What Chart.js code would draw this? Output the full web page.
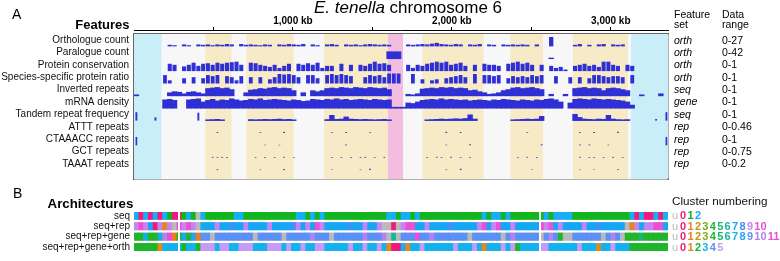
<!DOCTYPE html>
<html>
<head>
<meta charset="utf-8">
<script src="https://cdn.jsdelivr.net/npm/chart.js@4.4.0/dist/chart.umd.min.js"></script>
<style>
  body { margin: 0; background: #fff; }
  #wrap { position: relative; width: 780px; height: 261px; overflow: hidden; }
  canvas { position: absolute; left: 0; }
  #features-chart { top: 0; }
  #architecture-chart { top: 184px; }
</style>
</head>
<body>
<div id="wrap">
  <canvas id="features-chart" width="780" height="190"></canvas>
  <canvas id="architecture-chart" width="780" height="77"></canvas>
</div>
<script>
const FONT = "'Liberation Sans', Arial, Helvetica, sans-serif";
Chart.defaults.font.family = FONT;
Chart.defaults.color = '#111';

// chromosome length and window size (kb)
const CHROM_KB = 3360;
const BIN_KB = 30;
const kbTicks = [500, 1000, 1500, 2000, 2500, 3000];

// ---- PANEL A: feature tracks ----
const trackNames = ['Orthologue count', 'Paralogue count', 'Protein conservation', 'Species-specific protein ratio',
  'Inverted repeats', 'mRNA density', 'Tandem repeat frequency', 'ATTT repeats', 'CTAAACC repeats', 'GCT repeats', 'TAAAT repeats'];
const featureSets = ['orth', 'orth', 'orth', 'orth', 'seq', 'gene', 'seq', 'rep', 'rep', 'rep', 'rep'];
const dataRanges = ['0-27', '0-42', '0-1', '0-1', '0-1', '0-1', '0-1', '0-0.46', '0-1', '0-0.75', '0-0.2'];
const trackMax = [27, 42, 1, 1, 1, 1, 1, 0.46, 1, 0.75, 0.2];

// one value per 30 kb window
const orthologueCount = [
  0,0,0,0,0,0,0,4,3,0,5,3,0,5,4,5,
  3,5,4,6,5,0,6,4,5,4,3,5,4,0,5,4,
  6,5,4,6,0,5,3,0,5,6,4,0,5,4,5,3,
  5,6,5,4,5,4,0,0,0,5,4,5,6,5,7,9,
  6,5,4,6,5,0,5,4,6,0,5,4,0,5,4,5,
  4,5,4,0,5,0,0,24,0,0,0,0,4,6,0,4,
  0,5,6,0,5,4,5,0,0,0,0,0,0,0,0,0];

const proteinConservation = [
  0,0,0,0,0,0,0,0.7,0.6,0,0.45,0.6,0.8,0.5,0.7,0.75,
  0.6,0.8,0.7,0.8,0.85,0.9,0.6,0,0.8,0.75,0.6,0.5,0.4,0.6,0.3,0.5,
  0.7,0,0.7,0.6,0.75,0.6,0.8,0.3,0.5,0.5,0,0.7,0,0.6,0,0.6,
  0.5,0.7,0.9,0.7,0.75,0.6,0,0,0,0.6,0.3,0.6,0.5,0.7,0.8,0.9,
  0.8,0.9,0.6,0.7,0.8,0.5,0,0.6,0,0.7,0.6,0.6,0.5,0,0.7,0.8,
  0.9,0.7,0.8,0.6,0,0.6,0,0.5,0.3,0.4,0.15,0,0.5,0.6,0.7,0.5,
  0.6,0.4,0.9,0.9,0.6,0.5,0,0.6,0.5,0,0,0,0,0,0,0];

const speciesSpecific = [
  0,0,0,0,0,0,0.8,0.3,0,0,0.5,0,0.6,0,0.5,0.8,
  0.7,0.8,0,0.7,0.6,0.3,0.7,0,0.6,0,0.6,0,0.4,0.6,0.9,0.85,
  0.9,0.8,0.6,0,0.8,0.8,0.5,0,0.8,0.9,0.8,0.9,0.8,0.7,0,0,
  0.6,0.8,0.7,0.8,0.6,0.95,0.95,0.95,0,0,0.9,0,0.4,0,0.3,0.4,
  0,0.5,0.6,0.7,0.8,0.6,0,0.9,0,0.8,0.8,0.7,0.8,0,0.5,0.7,
  0.6,0.7,0.6,0.8,0.7,0.8,0,0,0.7,0,0,0.6,0,0.6,0,0.5,
  0.8,0.8,0.7,0.6,0.7,0.7,0.6,0,0.8,0,0,0,0,0,0,0];

const invertedRepeats = [
  0.1,0,0,0,0,0,0,0.3,0.4,0.35,0.2,0.35,0.4,0.3,0.2,0.7,
  0.75,0.8,0.7,0.75,0.6,0,0,0.3,0.55,0.6,0.7,0.65,0.75,0.8,0.7,0.75,
  0.7,0.5,0,0.3,0,0.5,0.4,0.5,0.7,0.75,0.7,0.8,0.75,0.7,0.8,0.75,
  0.7,0.8,0.75,0.7,0.75,0.6,0,0,0,0.15,0.1,0.2,0.65,0.7,0.75,0.7,
  0.8,0.75,0.8,0.7,0.75,0.7,0.5,0.55,0.4,0.3,0.15,0.2,0.3,0.5,0.6,0.75,
  0.8,0.7,0.75,0.8,0.7,0.6,0,0.15,0,0,0.15,0,0.7,0.75,0.8,0.7,
  0.75,0.7,0.5,0.7,0.75,0.7,0.6,0.5,0,0,0.1,0,0,0,0.2,0];

const mrnaDensity = [
  0,0,0,0,0,0,0.8,0.85,0.75,0,0,0.8,0.85,0.9,0.6,0.75,
  0.85,0.7,0.8,0.75,0.9,0.8,0.7,0.75,0.85,0.8,0.9,0.75,0.8,0.85,0.8,0.75,
  0.7,0.8,0.75,0.65,0.7,0.85,0.8,0.75,0.85,0.8,0.9,0.8,0.85,0.75,0.8,0.85,
  0.8,0.75,0.85,0.8,0.75,0.8,0.1,0.1,0.1,0.5,0.45,0.6,0.75,0.8,0.85,0.8,
  0.9,0.8,0.85,0.8,0.75,0.8,0.7,0.75,0.8,0.75,0.7,0.8,0.75,0.85,0.8,0.75,
  0.7,0.8,0.75,0.7,0.8,0.75,0.85,0.9,0.8,0.6,0,0.5,0.85,0.9,0.85,0.8,
  0.9,0.85,0.8,0.85,0.8,0.75,0.7,0.6,0.3,0,0,0,0,0,0,0];

const tandemRepeats = [
  0,0,0,0,0,0,0,0,0,0,0,0,0,0,0,0.08,
  0.1,0.12,0.08,0,0,0,0,0,0.1,0.08,0.1,0.12,0.1,0.12,0.15,0.1,
  0.12,0.08,0,0,0,0,0,0,0.1,0.5,0.12,0.15,0.35,0.15,0.12,0.1,
  0.12,0.1,0.08,0.1,0.12,0.08,0,0,0,0,0,0,0,0.08,0.1,0.12,
  0.15,0.12,0.15,0.18,0.15,0.2,0.55,0.15,0,0,0,0,0,0,0,0.08,
  0.1,0.12,0.15,0.12,0.15,0.4,0,0,0,0,0,0,0.6,0.3,0.15,0.12,
  0.1,0.15,0.12,0.5,0.15,0.1,0.08,0.1,0,0,0,0,0,0,0,0];
// isolated tandem peaks: [kb, value]
const tandemPeaks = [[15, 0.8], [135, 0.3], [405, 0.75], [3285, 0.15], [3350, 0.8]];

// sparse tracks: [kb, value]
const paralogueCount = [[1605, 28], [1635, 28], [1665, 28], [2625, 3]];
const atttRepeats = [[525, 0.04], [795, 0.03], [945, 0.05], [1245, 0.03], [1335, 0.04], [1485, 0.03],
  [1965, 0.05], [2055, 0.04], [2475, 0.03], [2805, 0.04], [2895, 0.04], [3045, 0.05]];
const ctaaaccRepeats = [[15, 0.8], [825, 0.05], [915, 0.05], [1335, 0.08], [1965, 0.06], [2115, 0.1],
  [2565, 0.1], [2805, 0.08], [2865, 0.08], [2985, 0.06], [3350, 0.8]];
const gctRepeats = [[495, 0.06], [525, 0.05], [555, 0.06], [585, 0.05], [765, 0.05], [825, 0.06], [885, 0.05],
  [945, 0.06], [1005, 0.05], [1245, 0.06], [1305, 0.05], [1365, 0.06], [1425, 0.05], [1455, 0.06], [1515, 0.05],
  [1575, 0.06], [1845, 0.05], [1905, 0.06], [1935, 0.05], [1995, 0.07], [2055, 0.05], [2115, 0.06], [2415, 0.05],
  [2475, 0.06], [2535, 0.05], [2805, 0.06], [2865, 0.05], [2895, 0.06], [2955, 0.05], [3015, 0.06], [3075, 0.05]];
const taaatRepeats = [[525, 0.015], [795, 0.01], [945, 0.02], [1245, 0.01], [1425, 0.01], [1485, 0.025],
  [1965, 0.012], [2055, 0.025], [2505, 0.012], [2805, 0.01], [2895, 0.012], [3045, 0.015]];

// background regions (kb edges) and their kind
const bandEdges = [0, 175, 451, 615, 709, 1007, 1197, 1600, 1695, 1817, 2202, 2370, 2575, 2764, 3110, 3130, 3360];
const bandKinds = ['end', 'gap', 'core', 'gap', 'core', 'gap', 'core', 'centre', 'gap', 'core', 'gap', 'core', 'gap', 'core', 'gap', 'end'];

// ---- PANEL B: cluster architectures ----
const rowNames = ['seq', 'seq+rep', 'seq+rep+gene', 'seq+rep+gene+orth'];
const clustersSeq = [
  2,0,2,0,2,0,2,1,0,0,1,2,1,'u',2,1,
  1,1,1,1,1,2,2,1,1,1,1,1,1,1,1,1,
  1,1,2,2,1,2,1,2,1,1,1,1,1,1,1,1,
  1,1,1,1,1,2,2,1,2,2,1,2,1,1,1,1,
  1,1,1,1,1,1,1,1,1,2,1,2,2,1,2,1,
  1,1,1,1,1,1,2,1,2,2,2,2,1,1,1,1,
  1,1,1,1,1,1,1,1,2,0,2,0,0,2,0,2];
const clustersSeqRep = [
  9,10,9,7,0,9,1,9,'u',10,9,10,9,'u',7,7,
  7,9,7,7,8,7,7,9,7,7,7,7,9,7,7,7,
  7,8,9,7,9,7,10,9,7,7,7,7,7,8,7,7,
  9,7,7,9,'u','u',0,'u',9,10,10,7,7,9,7,7,
  7,7,8,7,7,7,7,7,9,10,7,9,10,7,7,9,
  7,7,7,7,7,10,9,10,7,9,7,7,7,7,9,7,
  7,8,7,7,7,7,7,'u',1,9,7,9,9,10,10,7];
const clustersSeqRepGene = [
  4,4,7,4,4,7,10,11,1,4,8,4,8,1,9,9,
  'u',9,9,9,9,9,9,9,9,'u',9,9,9,9,9,'u',
  9,9,9,9,9,10,9,9,9,'u',9,9,9,9,9,9,
  10,9,9,9,10,'u',6,'u',9,9,9,11,9,9,10,9,
  9,9,9,9,9,9,'u',9,9,9,9,9,9,'u',9,10,
  9,9,9,9,9,'u',9,10,9,4,'u','u',9,9,9,9,
  9,9,'u',9,10,9,'u',4,4,4,5,4,4,4,4,4];
const clustersAll = [
  2,2,2,2,2,1,3,3,3,3,2,3,3,2,5,5,
  5,3,5,5,3,3,5,5,5,3,3,3,5,5,5,3,
  5,3,3,5,3,3,5,5,3,3,3,3,3,5,3,3,
  5,3,3,5,3,1,0,0,3,1,3,3,5,3,3,3,
  3,3,3,5,3,3,3,5,3,1,3,3,3,5,3,5,
  2,3,3,3,3,5,5,3,3,3,3,3,3,5,3,3,
  3,1,3,3,5,3,3,3,2,2,2,2,2,2,2,2];
const rowBreaksKb = [283, 2555];

// colours
const TRACK_BLUE = '#2f2fd6';
const FRAME = '#666';
const UNASSIGNED = '#b9b9b9';
const bandColors = { end: '#c9eef8', gap: '#f7f7f7', core: '#f7eac6', centre: '#f3bde0' };
const palSeq = ['#ef1a7e', '#12b51d', '#17aef4'];
const palSeqRep = ['#ef1a7e', '#e8841d', '#b99a10', '#76ab14', '#21b42a', '#17b872', '#13b6aa', '#16a7f3', '#4290f3', '#c783f2', '#ec4fd4'];
const palSeqRepGene = ['#ef1a7e', '#eb7d1f', '#c2950f', '#8aa812', '#22b42a', '#15b667', '#12b6a0', '#13b0d8', '#1fa4f2', '#5b90f5', '#b580f2', '#e64fd6'];
const palAll = ['#ef1a7e', '#df8a1b', '#1fb52a', '#12b1ef', '#5e8ef5', '#c79af5'];

const TRACK_SPAN = 11.72;  // y range of panel A (track units)
const BAR_FILL = 0.85;      // tallest bar as a share of a track
const ROW_H = 0.72;
const ROW_SPAN = 3.73;

function binCenter(i) {
  return i * BIN_KB + BIN_KB / 2;
}

// turns [kb, value] pairs into floating bars sitting on the track baseline
function trackBars(pairs, track) {
  const base = track + 1;
  return pairs
    .filter(p => p[1] > 0)
    .map(p => ({ x: p[0], y: [base, base - p[1] / trackMax[track] * BAR_FILL] }));
}

function denseTrack(values) {
  return values.map((v, i) => [binCenter(i), v]);
}

// [track index, pairs, share of the window the bar fills]
const trackSeries = [
  [0, denseTrack(orthologueCount), 0.9],
  [1, paralogueCount, 1],
  [2, denseTrack(proteinConservation), 0.85],
  [3, denseTrack(speciesSpecific), 0.8],
  [4, denseTrack(invertedRepeats), 1],
  [5, denseTrack(mrnaDensity), 1],
  [6, denseTrack(tandemRepeats), 1],
  [6, tandemPeaks, 0.4],
  [7, atttRepeats, 0.35],
  [8, ctaaaccRepeats, 0.35],
  [9, gctRepeats, 0.35],
  [10, taaatRepeats, 0.35]
];

const trackDatasets = trackSeries.map(([t, pairs, share]) => ({
  label: trackNames[t],
  data: trackBars(pairs, t),
  backgroundColor: TRACK_BLUE,
  barPercentage: share,
  categoryPercentage: 1,
  grouped: false,
  xAxisID: 'x',
  yAxisID: 'y'
}));

const bandDataset = {
  label: 'regions',
  indexAxis: 'y',
  xAxisID: 'xb',
  yAxisID: 'yb',
  data: bandKinds.map((k, i) => ({ x: [bandEdges[i], bandEdges[i + 1]], y: 'bg' })),
  backgroundColor: bandKinds.map(k => bandColors[k]),
  barPercentage: 1,
  categoryPercentage: 1,
  grouped: false,
  order: 10
};

const featureLabels = {
  id: 'featureLabels',
  afterDraw(chart) {
    const ctx = chart.ctx;
    const y = chart.scales.y;
    ctx.save();
    ctx.fillStyle = '#000';
    ctx.textBaseline = 'alphabetic';
    ctx.font = `14px ${FONT}`;
    ctx.fillText('A', 12, 18.5);

    // title: italic species name + plain text
    const part1 = 'E. tenella', part2 = ' chromosome 6';
    ctx.font = `italic 17px ${FONT}`;
    const w1 = ctx.measureText(part1).width;
    ctx.font = `17px ${FONT}`;
    const w2 = ctx.measureText(part2).width;
    const x0 = 408 - (w1 + w2) / 2;
    ctx.font = `italic 17px ${FONT}`;
    ctx.fillText(part1, x0, 12.5);
    ctx.font = `17px ${FONT}`;
    ctx.fillText(part2, x0 + w1, 12.5);

    ctx.font = `bold 13px ${FONT}`;
    ctx.textAlign = 'right';
    ctx.fillText('Features', 129.5, 29);

    ctx.textAlign = 'left';
    ctx.font = `10.5px ${FONT}`;
    ctx.fillText('Feature', 674, 18);
    ctx.fillText('set', 674, 27.5);
    ctx.fillText('Data', 722, 18);
    ctx.fillText('range', 722, 27.5);

    ctx.textBaseline = 'middle';
    featureSets.forEach((s, i) => {
      const yy = y.getPixelForValue(i + 0.5) + 0.5;
      ctx.font = `italic 10.5px ${FONT}`;
      ctx.fillText(s, 674, yy);
      ctx.font = `10.5px ${FONT}`;
      ctx.fillText(dataRanges[i], 722, yy);
    });
    ctx.restore();
  }
};

new Chart(document.getElementById('features-chart'), {
  type: 'bar',
  data: { datasets: [bandDataset, ...trackDatasets] },
  options: {
    responsive: false,
    animation: false,
    layout: { padding: 0 },
    plugins: { legend: { display: false }, tooltip: { enabled: false } },
    scales: {
      x: {
        type: 'linear', position: 'top', weight: 1, min: 0, max: CHROM_KB, offset: false,
        afterBuildTicks: s => { s.ticks = kbTicks.map(v => ({ value: v })); },
        afterFit: s => { s.height = 30; },
        ticks: {
          callback: v => (v % 1000 === 0 ? v.toLocaleString('en-US') + ' kb' : ''),
          font: { size: 10, weight: 'bold' }, color: '#000', maxRotation: 0, autoSkip: false, padding: 0
        },
        grid: { drawOnChartArea: false, drawTicks: true, tickLength: 3, color: '#000', offset: false },
        border: { display: true, color: '#000', width: 1 }
      },
      xf: {
        type: 'linear', axis: 'x', position: 'top', weight: 0, min: 0, max: CHROM_KB, offset: false,
        afterFit: s => { s.height = 4; },
        ticks: { display: false }, grid: { display: false, drawTicks: false },
        border: { display: true, color: FRAME, width: 1.5 }, z: 1
      },
      xb: {
        type: 'linear', axis: 'x', position: 'bottom', min: 0, max: CHROM_KB, offset: false,
        afterFit: s => { s.height = 2; },
        ticks: { display: false }, grid: { display: false, drawTicks: false },
        border: { display: true, color: FRAME, width: 1.5 }, z: 1
      },
      y: {
        type: 'linear', position: 'left', weight: 1, min: 0, max: TRACK_SPAN, reverse: true,
        afterBuildTicks: s => { s.ticks = trackNames.map((n, i) => ({ value: i + 0.5 })); },
        afterFit: s => { s.width = 134; },
        ticks: { callback: (v, i) => trackNames[i], font: { size: 10 }, color: '#111', padding: 5, autoSkip: false },
        grid: { display: false, drawTicks: false },
        border: { display: true, color: FRAME, width: 1.5 }, z: 1
      },
      yg: {
        type: 'linear', axis: 'y', position: 'left', weight: 0, min: 0, max: TRACK_SPAN, reverse: true,
        afterBuildTicks: s => { s.ticks = trackNames.map((n, i) => ({ value: i + 1 })); },
        afterFit: s => { s.width = 0; },
        ticks: { display: false },
        grid: { color: '#a8a8a8', lineWidth: 1.2, drawTicks: false },
        border: { display: false }, z: 1
      },
      yb: { type: 'category', axis: 'y', labels: ['bg'], display: false, offset: true },
      yr: {
        type: 'linear', axis: 'y', position: 'right', min: 0, max: 1,
        afterFit: s => { s.width = 112; },
        ticks: { display: false }, grid: { display: false, drawTicks: false },
        border: { display: true, color: FRAME, width: 1.5 }, z: 1
      }
    }
  },
  plugins: [featureLabels]
});

// ---- PANEL B chart ----
const rowClusters = [clustersSeq, clustersSeqRep, clustersSeqRepGene, clustersAll];
const rowPalettes = [palSeq, palSeqRep, palSeqRepGene, palAll];

const rowDatasets = rowClusters.map((clusters, r) => ({
  label: rowNames[r],
  data: clusters.map((c, i) => ({ x: binCenter(i), y: [r, r + ROW_H] })),
  backgroundColor: clusters.map(c => (c === 'u' ? UNASSIGNED : rowPalettes[r][c])),
  barPercentage: 1,
  categoryPercentage: 1,
  grouped: false,
  xAxisID: 'x',
  yAxisID: 'y'
}));

const breakDataset = {
  label: 'breaks',
  data: rowBreaksKb.map(kb => ({ x: kb, y: [0, ROW_SPAN] })),
  backgroundColor: '#fff',
  barThickness: 1.3,
  grouped: false,
  xAxisID: 'x2',
  yAxisID: 'y',
  order: -1
};

const architectureLabels = {
  id: 'architectureLabels',
  afterDraw(chart) {
    const ctx = chart.ctx;
    const y = chart.scales.y;
    ctx.save();
    ctx.fillStyle = '#000';
    ctx.textBaseline = 'alphabetic';
    ctx.font = `14px ${FONT}`;
    ctx.fillText('B', 13, 14);
    ctx.font = `bold 13.3px ${FONT}`;
    ctx.textAlign = 'right';
    ctx.fillText('Architectures', 133.3, 23.5);
    ctx.textAlign = 'left';
    ctx.font = `11.7px ${FONT}`;
    ctx.fillStyle = '#111';
    ctx.fillText('Cluster numbering', 672, 20.5);

    ctx.textBaseline = 'middle';
    rowPalettes.forEach((pal, r) => {
      let x = 672;
      const yy = y.getPixelForValue(r + ROW_H / 2) + 0.5;
      ctx.font = `11px ${FONT}`;
      ctx.fillStyle = UNASSIGNED;
      ctx.fillText('u', x, yy);
      x += ctx.measureText('u').width + 2;
      ctx.font = `bold 11px ${FONT}`;
      pal.forEach((c, k) => {
        const t = String(k);
        ctx.fillStyle = c;
        ctx.fillText(t, x, yy);
        x += ctx.measureText(t).width + 1.3;
      });
    });
    ctx.restore();
  }
};

new Chart(document.getElementById('architecture-chart'), {
  type: 'bar',
  data: { datasets: [...rowDatasets, breakDataset] },
  options: {
    responsive: false,
    animation: false,
    layout: { padding: { top: 28, right: 112, left: 0, bottom: 0 } },
    plugins: { legend: { display: false }, tooltip: { enabled: false } },
    scales: {
      x: { type: 'linear', min: 0, max: CHROM_KB, display: false, offset: false },
      x2: { type: 'linear', axis: 'x', min: 0, max: CHROM_KB, display: false, offset: false },
      y: {
        type: 'linear', position: 'left', min: 0, max: ROW_SPAN, reverse: true,
        afterBuildTicks: s => { s.ticks = rowNames.map((n, i) => ({ value: i + ROW_H / 2 })); },
        afterFit: s => { s.width = 134; },
        ticks: { callback: (v, i) => rowNames[i], font: { size: 10 }, color: '#111', padding: 4, autoSkip: false },
        grid: { display: false, drawTicks: false },
        border: { display: false }
      }
    }
  },
  plugins: [architectureLabels]
});
</script>
</body>
</html>
